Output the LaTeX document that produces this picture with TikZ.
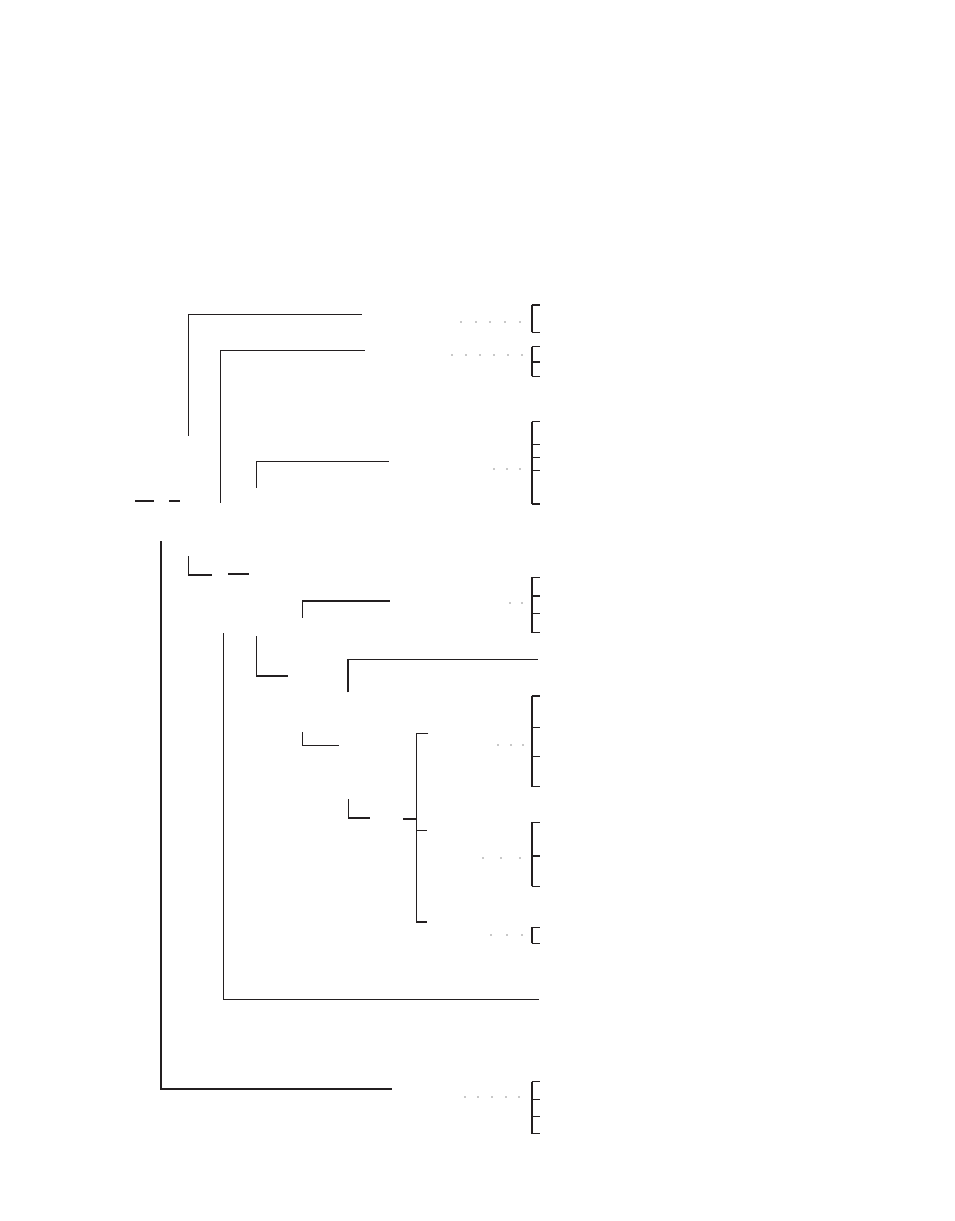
\documentclass[tikz,border=0pt]{standalone}
\usepackage{tikz}
\definecolor{ink}{HTML}{231F20}
\definecolor{dotc}{HTML}{C8C8C8}
\begin{document}
\begin{tikzpicture}[x=1pt,y=-1pt,
  thin line/.style={draw=ink,line width=1.2pt},
  thick line/.style={draw=ink,line width=2pt},
  tick line/.style={draw=ink,line width=1.4pt},
  dotmark/.style={fill=dotc,draw=none}]
\useasboundingbox[fill=white] (0,0) rectangle (954,1221);
% left tree lines
\draw[thin line] (188.3,435.7) -- (188.3,314.3) -- (361.7,314.3);
\draw[thin line] (220.3,502.7) -- (220.3,350.3) -- (364.7,350.3);
\draw[thin line] (256.3,487.7) -- (256.3,461.3) -- (388.7,461.3);
\draw[thin line] (135,501) -- (154,501);
\draw[thin line] (169,501) -- (180,501);
\draw[thick line] (161,541) -- (161,1088.7) -- (392,1088.7);
\draw[thin line] (188.3,556) -- (188.3,575) -- (211.7,575);
\draw[thin line] (228,574) -- (248.7,574);
\draw[thin line] (302.3,617.7) -- (302.3,601) -- (389.7,601);
\draw[thin line] (223.3,633.3) -- (223.3,999.3) -- (539,999.3);
\draw[thin line] (256.3,636) -- (256.3,676) -- (287.7,676);
\draw[thick line] (348.3,692.3) -- (348.3,659.3);
\draw[thin line] (347.3,659.3) -- (537.7,659.3);
\draw[thin line] (302.7,732) -- (302.7,745.3) -- (339,745.3);
\draw[thin line] (348.3,799) -- (348.3,818) -- (370,818);
\draw[thin line] (403.3,819) -- (416.5,819);
\draw[thin line] (428.3,733.3) -- (416.5,733.3) -- (416.5,922) -- (426.7,922);
\draw[thin line] (416.5,830.3) -- (426.7,830.3);
% right brackets
\foreach \ys in {{305,332.3},{346.7,362,376.3},{421.7,444.3,457.3,470.3,504},
  {577.3,596,613.3,632.7},{696,727.5,756.2,786.5},{822.3,856,886.3},
  {927.3,943.3},{1081.7,1099.7,1116.3,1133.7}}{
  \foreach \y [count=\i] in \ys {
    \ifnum\i=1 \xdef\ytop{\y}\fi
    \xdef\ybot{\y}
    \draw[tick line] (531.7,\y) -- (540,\y);
  }
  \draw[thick line] (531.7,\ytop) -- (531.7,\ybot);
}
% dots
\foreach \y/\xs in {322/{460.7,475.7,489.7,504.7,519.7},
  354.7/{452,466,480,494,508,522},
  469/{493.7,507,520},
  602.7/{510,522},
  745/{498,510.7,523},
  857.7/{482.7,501,520},
  934.7/{490.7,506.7,521.7},
  1096.7/{465,478.3,492,506,519}}{
  \foreach \x in \xs {
    \fill[dotmark] (\x-1.1,\y-1.1) rectangle (\x+1.1,\y+1.1);
  }
}
\end{tikzpicture}
\end{document}
